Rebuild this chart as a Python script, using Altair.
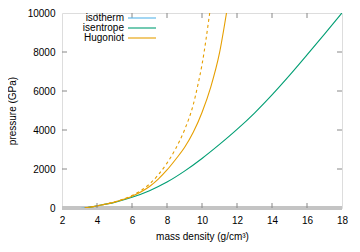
import altair as alt
import pandas as pd

# ---- data ----
iso_x = [2.0, 2.5, 3.0, 3.3, 3.7]
iso_y = [-40, -40, -30, 0, 60]

isen_x = [3.3, 4, 5, 6, 7, 8, 9, 10, 11, 12, 13, 14, 15, 16, 17, 18]
isen_y = [0, 110, 290, 550, 890, 1330, 1890, 2540, 3260, 4030, 4870, 5800, 6800, 7850, 8920, 10000]

hug_x = [3.3, 4, 5, 6, 7, 7.5, 8, 8.5, 9, 9.5, 10, 10.5, 11, 11.4]
hug_y = [0, 110, 300, 600, 1100, 1480, 1950, 2500, 3100, 3880, 4900, 6200, 7950, 10000]

hugd_x = [3.3, 4, 5, 6, 7, 7.5, 8, 8.5, 9, 9.5, 9.75, 10, 10.44]
hugd_y = [0, 110, 310, 640, 1230, 1700, 2300, 3050, 4000, 5300, 6250, 7350, 10000]

x_ticks = [2, 4, 6, 8, 10, 12, 14, 16, 18]
y_ticks = [0, 2000, 4000, 6000, 8000, 10000]

names = ["isotherm", "isentrope", "Hugoniot"]
colors = ["#56b4e9", "#009e73", "#e69f00"]

FONT = "Liberation Sans"
BORDER = "#888888"

xs = alt.Scale(domain=[2, 18], nice=False, zero=False)
ys = alt.Scale(domain=[0, 10000], nice=False, zero=False)

W, H = 280, 195

x_axis = alt.Axis(values=x_ticks, title="mass density (g/cm³)", grid=False, format="d",
                  domain=False, ticks=False, labelPadding=7, labelOverlap=False,
                  labelFont=FONT, labelFontSize=10, labelColor="#000",
                  titleFont=FONT, titleFontSize=10, titleFontWeight="normal",
                  titlePadding=6, titleColor="#000", labelFlush=False)
y_axis = alt.Axis(values=y_ticks, title="pressure (GPa)", grid=False, format="d",
                  domain=False, ticks=False, labelPadding=7, labelOverlap=False,
                  labelFont=FONT, labelFontSize=10, labelColor="#000",
                  titleFont=FONT, titleFontSize=10, titleFontWeight="normal",
                  titlePadding=10, titleColor="#000", labelFlush=False)

X = lambda: alt.X("x:Q", scale=xs, axis=x_axis)
Y = lambda: alt.Y("y:Q", scale=ys, axis=y_axis)


def line(xv, yv, color, dash=None):
    df = pd.DataFrame({"x": xv, "y": yv})
    kw = dict(color=color, strokeWidth=1.1, interpolate="monotone", clip=True)
    if dash:
        kw["strokeDash"] = dash
    return alt.Chart(df).mark_line(**kw).encode(x=X(), y=Y())


# zero band at bottom
zero_df = pd.DataFrame({"y": [0]})
zero_band = alt.Chart(zero_df).mark_rule(color="#c4c4c4", strokeWidth=4).encode(y=Y())

# inward ticks
xt_df = pd.DataFrame({"x": x_ticks[1:-1]})
yt_df = pd.DataFrame({"y": y_ticks[1:-1]})
xt_bot = alt.Chart(xt_df).mark_rule(color=BORDER, strokeWidth=1).encode(
    x=X(), y=alt.value(H), y2=alt.value(H - 5))
xt_top = alt.Chart(xt_df).mark_rule(color=BORDER, strokeWidth=1).encode(
    x=X(), y=alt.value(0), y2=alt.value(5))
yt_left = alt.Chart(yt_df).mark_rule(color=BORDER, strokeWidth=1).encode(
    y=Y(), x=alt.value(0), x2=alt.value(5))
yt_right = alt.Chart(yt_df).mark_rule(color=BORDER, strokeWidth=1).encode(
    y=Y(), x=alt.value(W), x2=alt.value(W - 5))

iso = line(iso_x, iso_y, colors[0])
isen = line(isen_x, isen_y, colors[1])
hug = line(hug_x, hug_y, colors[2])
hugd = line(hugd_x, hugd_y, colors[2], dash=[3, 3])

# manual gnuplot-style legend (text left, sample right)
legend_layers = []
for i, (n, c) in enumerate(zip(names, colors)):
    ld = pd.DataFrame({"name": [n]})
    yy = 5 + i * 10
    legend_layers.append(
        alt.Chart(ld).mark_text(align="right", baseline="middle", font=FONT, fontSize=10,
                                color="#000").encode(
            text="name:N", x=alt.value(62), y=alt.value(yy)))
    legend_layers.append(
        alt.Chart(ld).mark_rule(color=c, strokeWidth=1.1).encode(
            x=alt.value(66), x2=alt.value(94), y=alt.value(yy)))

chart = alt.layer(
    zero_band, iso, isen, hugd, hug, xt_bot, xt_top, yt_left, yt_right, *legend_layers
).properties(
    width=W, height=H,
    autosize=alt.AutoSizeParams(type="none"),
    padding={"left": 54, "top": 5, "right": 10, "bottom": 36},
).configure_view(
    stroke=BORDER, strokeWidth=2
).configure(background="white")

chart.save("out.html", embed_options={"renderer": "svg", "actions": False})
